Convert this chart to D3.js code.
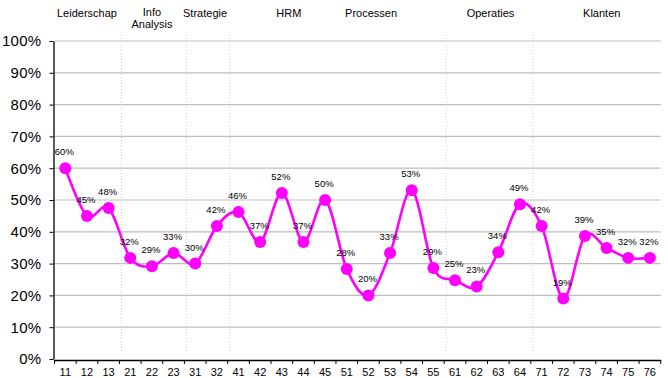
<!DOCTYPE html>
<html>
<head>
<meta charset="utf-8">
<script src="https://cdn.jsdelivr.net/npm/d3@7"></script>
<style>
  html, body { margin: 0; padding: 0; background: #fff; }
  svg { display: block; font-family: Arial, "Liberation Sans", sans-serif; }
</style>
</head>
<body>
<svg id="chart" width="668" height="378"></svg>
<script>
// ---- data ----
const categories = ["11","12","13","21","22","23","31","32","41","42","43","44","45",
                    "51","52","53","54","55","61","62","63","64","71","72","73","74","75","76"];
const values = [0.60,0.45,0.475,0.318,0.292,0.333,0.30,0.418,0.462,0.368,0.522,0.368,0.50,
                0.283,0.20,0.333,0.531,0.286,0.248,0.228,0.336,0.487,0.418,0.19,0.387,0.349,0.318,0.318];
const groupNames = ["Leiderschap","Info Analysis","Strategie","HRM","Processen","Operaties","Klanten"];
const groupKeys = ["1","2","3","4","5","6","7"];
const yTicks = [0,0.1,0.2,0.3,0.4,0.5,0.6,0.7,0.8,0.9,1.0];

// ---- layout ----
const svg = d3.select("#chart");
const mLeft = 54.5, mRight = 660.7, mTop = 41, mBottom = 359;
const labelOffsets = [0, 0, -1, 7, -19, 3, 6];

const x = d3.scaleBand().domain(categories).range([mLeft, mRight]).padding(0);
const y = d3.scaleLinear().domain([0, 1]).range([mBottom, mTop]);

// gridlines
svg.append("g").selectAll("line").data(yTicks.filter(d => d > 0)).join("line")
  .attr("x1", mLeft).attr("x2", mRight)
  .attr("y1", d => y(d)).attr("y2", d => y(d))
  .attr("stroke", "#bdbdbd").attr("stroke-width", 1.2);

// group separators
const groups = groupKeys.map((k, i) => {
  const cats = categories.filter(c => c[0] === k);
  return { name: groupNames[i], start: x(cats[0]), end: x(cats[cats.length - 1]) + x.bandwidth(), off: labelOffsets[i] };
});
const sepIdx = [1, 2, 3, 5, 6]; // boundaries drawn in reference
svg.append("g").selectAll("line").data(sepIdx).join("line")
  .attr("x1", i => groups[i].start + 2).attr("x2", i => groups[i].start + 2)
  .attr("y1", 35).attr("y2", 352)
  .attr("stroke", "#d0d0d0").attr("stroke-width", 1).attr("stroke-dasharray", "1,2");

// group labels
const gl = svg.append("g").attr("font-size", 11).attr("fill", "#000").attr("text-anchor", "middle");
groups.forEach(g => {
  const cx = (g.start + g.end) / 2 + g.off;
  const words = g.name.split(" ");
  if (words.length > 1) {
    gl.append("text").attr("x", cx).attr("y", 16).text(words[0]);
    gl.append("text").attr("x", cx).attr("y", 28).text(words[1]);
  } else {
    gl.append("text").attr("x", cx).attr("y", 17).text(g.name);
  }
});

// y axis
const yAxis = svg.append("g").attr("transform", `translate(${mLeft - 1},0)`)
  .call(d3.axisLeft(y).tickValues(yTicks).tickFormat(d3.format(".0%")).tickSize(4).tickSizeOuter(0));
yAxis.select(".domain").attr("stroke", "#000").attr("stroke-width", 1.3);
yAxis.selectAll(".tick line").attr("stroke", "#000");
yAxis.selectAll(".tick text").attr("font-size", 15).attr("font-family", "Arial, 'Liberation Sans', sans-serif")
  .attr("fill", "#000").attr("x", -12).attr("letter-spacing", 0.3);

// x axis
const xAxis = svg.append("g").attr("transform", `translate(0,${mBottom + 1})`)
  .call(d3.axisBottom(x).tickSize(0).tickSizeOuter(0));
xAxis.select(".domain").attr("stroke", "#000").attr("stroke-width", 1.3);
xAxis.selectAll(".tick text").attr("font-size", 11).attr("font-family", "Arial, 'Liberation Sans', sans-serif")
  .attr("fill", "#000").attr("dy", "0").attr("y", 16);
// ticks between categories
const bounds = categories.map(c => x(c)).concat([mRight]);
xAxis.append("g").selectAll("line").data(bounds).join("line")
  .attr("x1", d => d).attr("x2", d => d).attr("y1", 0).attr("y2", 4)
  .attr("stroke", "#000").attr("stroke-width", 1);

// line
const pts = categories.map((c, i) => ({ c, v: values[i] }));
const line = d3.line().x(d => x(d.c) + x.bandwidth() / 2).y(d => y(d.v)).curve(d3.curveCardinal.tension(0));
svg.append("path").datum(pts).attr("d", line)
  .attr("fill", "none").attr("stroke", "#ff00ff").attr("stroke-width", 2.6);

svg.append("g").selectAll("circle").data(pts).join("circle")
  .attr("cx", d => x(d.c) + x.bandwidth() / 2).attr("cy", d => y(d.v)).attr("r", 6)
  .attr("fill", "#ff00ff");

// data labels
svg.append("g").selectAll("text").data(pts).join("text")
  .attr("x", d => x(d.c) + x.bandwidth() / 2 - 1)
  .attr("y", d => y(d.v) - 13)
  .attr("text-anchor", "middle").attr("font-size", 9.5).attr("fill", "#000")
  .text(d => d3.format(".0%")(d.v));
</script>
</body>
</html>
